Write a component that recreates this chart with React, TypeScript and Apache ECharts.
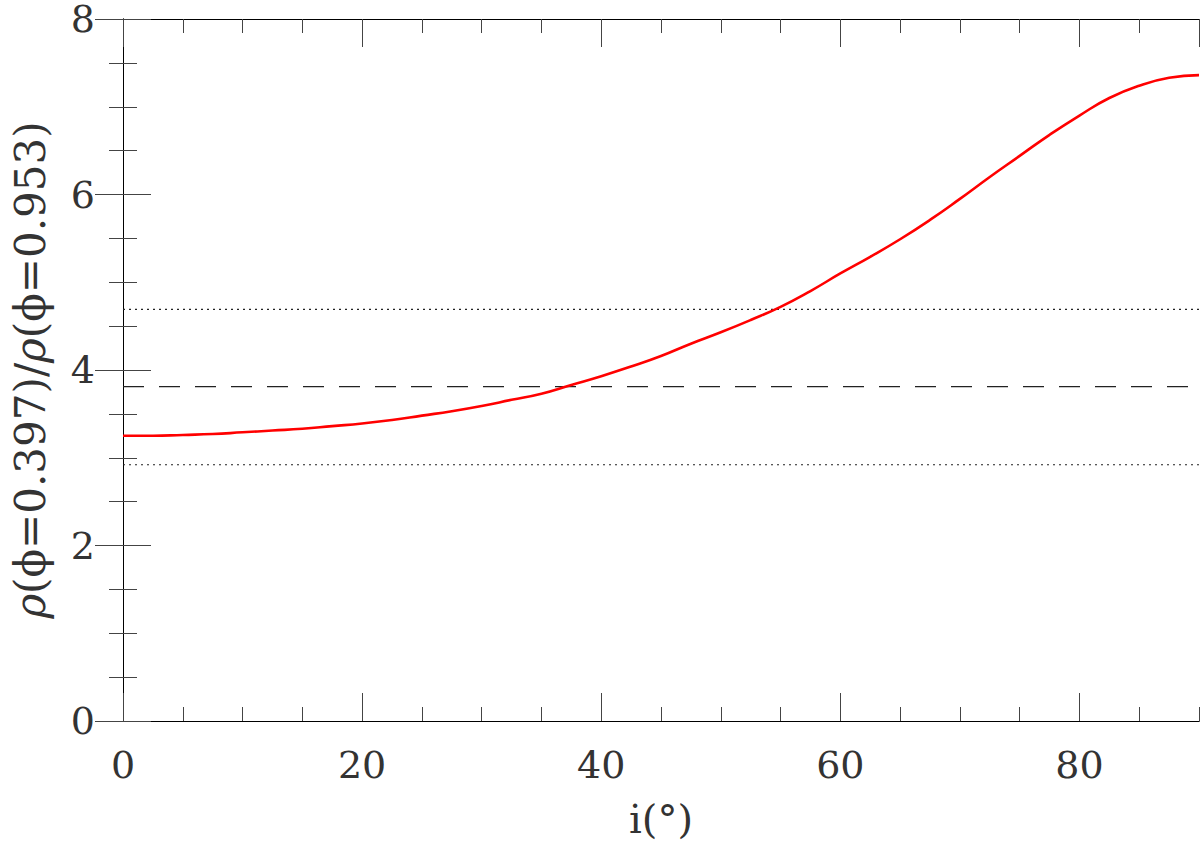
import React, { useEffect, useRef } from "react";
import * as echarts from "echarts";

const inclination = [0, 2.5, 5, 7.5, 10, 12.5, 15, 17.5, 20, 22.5, 25, 27.5, 30, 32.5, 35, 37.5, 40, 42.5, 45, 47.5, 50, 52.5, 55, 57.5, 60, 62.5, 65, 67.5, 70, 72.5, 75, 77.5, 80, 82.5, 85, 87.5, 90];
const ratio = [3.25, 3.25, 3.26, 3.27, 3.29, 3.31, 3.33, 3.36, 3.39, 3.43, 3.48, 3.53, 3.59, 3.66, 3.73, 3.83, 3.93, 4.04, 4.16, 4.3, 4.43, 4.57, 4.72, 4.9, 5.1, 5.29, 5.49, 5.71, 5.95, 6.2, 6.44, 6.68, 6.9, 7.1, 7.24, 7.33, 7.36];
const observedRatio = 3.81;
const lowerBound = 2.92;
const upperBound = 4.69;
const xRange = [0, 90];
const yRange = [0, 8];

const FONT = "DejaVu Serif";
const TXT = "#333";

export default function App() {
  const ref = useRef<HTMLDivElement>(null);
  useEffect(() => {
    if (!ref.current) return;
    const chart = echarts.init(ref.current, undefined, { renderer: "svg" });
    const lineStyleAxis = { show: true, lineStyle: { color: "#000", width: 1 } };
    const minorX = (position: string) => ({
      type: "value",
      min: xRange[0],
      max: xRange[1],
      interval: 5,
      position,
      axisLine: lineStyleAxis,
      axisTick: { show: true, inside: true, length: 14, lineStyle: { color: "#444", width: 1 } },
      axisLabel: { show: false },
      splitLine: { show: false },
    });
    const majorX = (position: string, labels: boolean) => ({
      type: "value",
      min: xRange[0],
      max: xRange[1],
      interval: 20,
      position,
      axisLine: lineStyleAxis,
      axisTick: { show: true, inside: true, length: 28, lineStyle: { color: "#444", width: 1 } },
      axisLabel: labels
        ? { show: true, showMaxLabel: false, margin: 44, fontFamily: FONT, fontSize: 38, color: TXT, verticalAlign: "middle" }
        : { show: false },
      splitLine: { show: false },
      ...(labels
        ? {
            name: "i(°)",
            nameLocation: "middle",
            nameGap: 98,
            nameTextStyle: { fontFamily: FONT, fontSize: 40, color: TXT, verticalAlign: "middle" },
          }
        : {}),
    });
    const yAx = (position: string, labels: boolean) => ({
      type: "value",
      min: yRange[0],
      max: yRange[1],
      interval: 2,
      position,
      axisLine: lineStyleAxis,
      axisTick: { show: true, inside: true, length: 28, lineStyle: { color: "#444", width: 1 } },
      minorTick: { show: true, splitNumber: 4, length: 14, lineStyle: { color: "#444", width: 1 } },
      axisLabel: labels
        ? { show: true, margin: 28, fontFamily: FONT, fontSize: 38, color: TXT }
        : { show: false },
      splitLine: { show: false },
      minorSplitLine: { show: false },
      ...(labels
        ? {
            name: "{i|ρ}(ϕ=0.397)/{i|ρ}(ϕ=0.953)",
            nameLocation: "middle",
            nameGap: 72,
            nameTextStyle: {
              fontFamily: FONT,
              fontSize: 42,
              color: TXT,
              rich: { i: { fontFamily: FONT, fontSize: 42, fontStyle: "italic", color: TXT } },
            },
          }
        : {}),
    });
    const hline = (v: number, type: any) => ({
      type: "line",
      xAxisIndex: 0,
      yAxisIndex: 0,
      symbol: "none",
      silent: true,
      data: [
        [xRange[0], v],
        [xRange[1], v],
      ],
      lineStyle: { color: "#222", width: 1.2, type },
      z: 1,
    });
    chart.setOption({
      animation: false,
      backgroundColor: "#fff",
      grid: { left: 123, top: 19, right: 1, bottom: 123, containLabel: false, outerBoundsMode: "none" },
      xAxis: [minorX("bottom"), majorX("bottom", true), minorX("top"), majorX("top", false)],
      yAxis: [yAx("left", true), yAx("right", false)],
      series: [
        hline(upperBound, [2, 4]),
        hline(observedRatio, [21, 15]),
        hline(lowerBound, [2, 4]),
        {
          type: "line",
          xAxisIndex: 0,
          yAxisIndex: 0,
          symbol: "none",
          smooth: true,
          data: inclination.map((x, i) => [x, ratio[i]]),
          lineStyle: { color: "#ff0000", width: 2.6 },
          z: 3,
        },
      ],
    });
    return () => chart.dispose();
  }, []);
  return (
    <div
      ref={ref}
      style={{ position: "fixed", left: 0, top: 0, width: 1200, height: 844, background: "#fff" }}
    />
  );
}
